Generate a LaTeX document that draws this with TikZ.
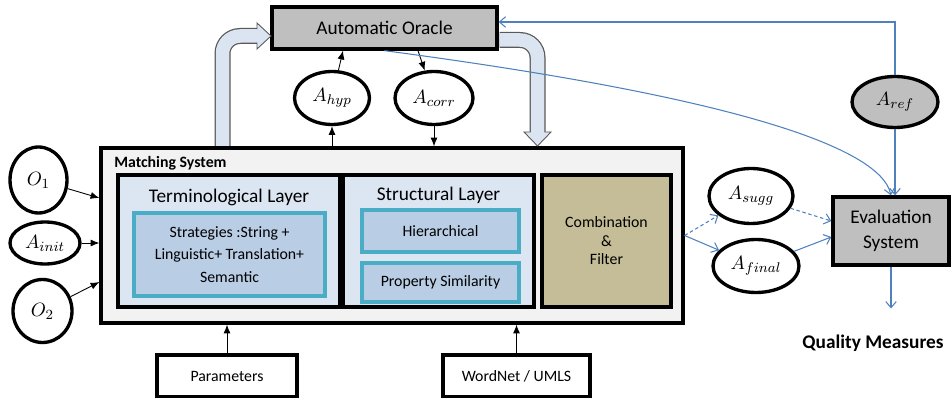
\documentclass[tikz,border=0pt]{standalone}
\usepackage{amsmath}
\usepackage{fontspec}
\setmainfont{Carlito}
\usepackage{tikz}
\usetikzlibrary{arrows.meta}
\usetikzlibrary{shapes.geometric}

\definecolor{boxgray}{HTML}{BFBFBF}
\definecolor{msgray}{HTML}{F2F2F2}
\definecolor{layerblue}{HTML}{DCE6F2}
\definecolor{stratblue}{HTML}{B9CDE5}
\definecolor{stratedge}{HTML}{4BACC6}
\definecolor{combkhaki}{HTML}{C4BD97}
\definecolor{linkblue}{HTML}{4F81BD}
\definecolor{fatfill}{HTML}{DBE5F1}
\definecolor{fatedge}{HTML}{595959}

\tikzset{
  box/.style={draw, line width=1.9pt, inner sep=0pt, align=center, font=\fontsize{9}{11}\selectfont},
  bigbox/.style={box, font=\fontsize{11}{14.5}\selectfont},
  layerbox/.style={box, fill=layerblue},
  stratbox/.style={draw=stratedge, fill=stratblue, line width=1.8pt, inner sep=0pt, align=center, font=\fontsize{9}{12.8}\selectfont},
  setnode/.style={ellipse, draw, line width=1.9pt, inner sep=0pt, font=\fontsize{11}{13}\selectfont},
  arr/.style={-{Latex[length=5pt,width=4pt]}, line width=0.5pt},
  bluearr/.style={-{Straight Barb[length=3.5pt,width=6pt]}, draw=linkblue, line width=0.6pt},
  bluedash/.style={bluearr, dash pattern=on 2pt off 1.5pt},
  fatout/.style={line width=0.32cm, draw=fatedge, rounded corners=0.35cm},
  fatin/.style={line width=0.27cm, draw=fatfill, rounded corners=0.35cm},
  fathead/.style={fill=fatfill, draw=fatedge, line width=0.5pt, line join=miter}
}

\begin{document}
\begin{tikzpicture}[x=0.02cm,y=-0.02cm]
\useasboundingbox (0,0) rectangle (952,398);

% oracle and matching system
\node[bigbox, fill=boxgray, minimum width=4.5cm, minimum height=0.84cm] (oracle) at (384.5,28) {Automatic Oracle};
\node[box, fill=msgray, minimum width=11.64cm, minimum height=3.5cm] (ms) at (392,235.5) {};
\node[anchor=west, inner sep=0pt, font=\bfseries\fontsize{9}{11}\selectfont] (mslabel) at (114,163) {Matching System};

% layers
\node[layerbox, minimum width=4.44cm, minimum height=2.64cm] (term) at (229,241) {};
\node[font=\fontsize{11}{13}\selectfont] (termtitle) at (229,197) {Terminological Layer};
\node[stratbox, minimum width=3.82cm, minimum height=1.66cm] (strat) at (229.5,254.5) {Strategies :String +\\Linguistic+ Translation+\\Semantic};

\node[layerbox, minimum width=3.82cm, minimum height=2.64cm] (struct) at (438.5,241) {};
\node[font=\fontsize{11}{13}\selectfont] (structtitle) at (438.5,195) {Structural Layer};
\node[stratbox, minimum width=3.14cm, minimum height=0.84cm] (hier) at (440.5,231) {Hierarchical};
\node[stratbox, minimum width=3.14cm, minimum height=0.78cm] (prop) at (440.5,282.5) {Property Similarity};

\node[box, fill=combkhaki, font=\fontsize{9}{10.5}\selectfont, minimum width=2.58cm, minimum height=2.64cm] (comb) at (606.5,241) {Combination\\\&\\Filter};

% inputs below
\node[box, minimum width=2.8cm, minimum height=0.84cm] (params) at (227,376) {Parameters};
\node[box, minimum width=2.94cm, minimum height=0.84cm] (wordnet) at (516.5,376) {WordNet / UMLS};

% alignments
\node[setnode, minimum width=1.14cm, minimum height=1.32cm] (O1) at (38.5,180) {$O_1$};
\node[setnode, minimum width=1.4cm, minimum height=0.84cm] (Ainit) at (45,243) {$A_{init}$};
\node[setnode, minimum width=1.18cm, minimum height=1.26cm] (O2) at (42.5,311) {$O_2$};
\node[setnode, minimum width=1.5cm, minimum height=1.06cm] (Ahyp) at (332,98) {$A_{hyp}$};
\node[setnode, minimum width=1.56cm, minimum height=1.06cm] (Acorr) at (434,98) {$A_{corr}$};
\node[setnode, fill=boxgray, minimum width=1.72cm, minimum height=1.02cm] (Aref) at (895,102) {$A_{ref}$};
\node[setnode, minimum width=1.68cm, minimum height=1.1cm] (Asugg) at (751,196) {$A_{sugg}$};
\node[setnode, minimum width=1.72cm, minimum height=1.06cm] (Afinal) at (756,266) {$A_{final}$};

% evaluation
\node[bigbox, fill=boxgray, minimum width=2.32cm, minimum height=1.36cm] (eval) at (891,231) {Evaluation\\System};
\node[font=\bfseries\fontsize{11}{13}\selectfont] (qm) at (873,343) {Quality Measures};

% fat arrows
\draw[fatout] (222.5,146) |- (257,36);
\draw[fatin] (222.5,146) |- (257,36);
\draw[fathead] (257,29.25) -- (257,23) -- (271,36) -- (257,49) -- (257,42.75);

\draw[fatout] (499.5,40) -| (537.5,132);
\draw[fatin] (499.5,40) -| (537.5,132);
\draw[fathead] (530.75,132) -- (524,132) -- (537.5,146) -- (551,132) -- (544.25,132);

% black connectors
\draw[arr] (O1) -- ([yshift=0.75cm]ms.west);
\draw[arr] (Ainit) -- (Ainit -| ms.west);
\draw[arr] (O2) -- ([yshift=-0.93cm]ms.west);
\draw[arr] (Ahyp.south |- ms.north) -- (Ahyp);
\draw[arr] (Ahyp) -- ([xshift=-0.83cm]oracle.south);
\draw[arr] ([xshift=0.67cm]oracle.south) -- (Acorr);
\draw[arr] (Acorr) -- (Acorr |- ms.north);
\draw[arr] (params) -- (params |- ms.south);
\draw[arr] (wordnet) -- (wordnet |- ms.south);

% blue connectors
\draw[bluearr] (Aref) |- ([yshift=0.12cm]oracle.east);
\draw[bluearr] (Aref.south) -- (Aref.south |- eval.north);
\draw[bluearr] (oracle.south) .. controls (720,95) and (880,145) .. (eval.north);
\draw[bluedash] (ms.east) -- (Asugg);
\draw[bluearr] (ms.east) -- (Afinal);
\draw[bluedash] (Asugg) -- ([yshift=0.2cm]eval.west);
\draw[bluearr] (Afinal) -- ([yshift=-0.12cm]eval.west);
\draw[bluearr, shorten >=0.4cm] (eval) -- (eval |- qm.north);
\end{tikzpicture}
\end{document}
